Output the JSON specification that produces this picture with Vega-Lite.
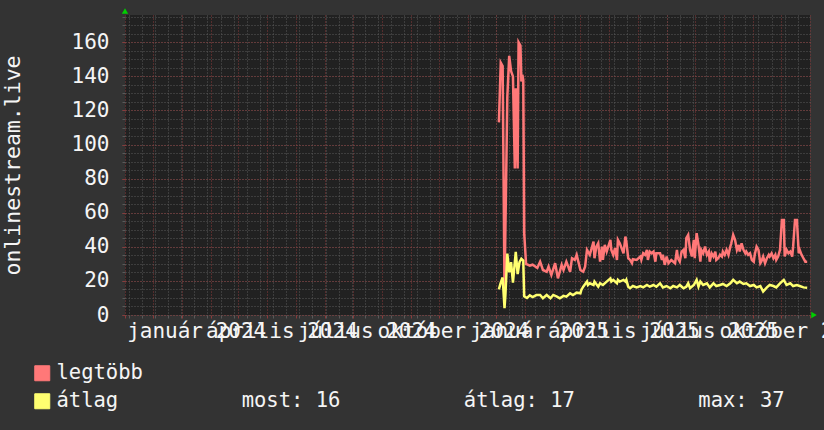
{
  "$schema": "https://vega.github.io/schema/vega-lite/v6.json",
  "width": 685,
  "height": 300,
  "autosize": {"type": "none"},
  "padding": {"left": 125, "top": 15, "right": 14, "bottom": 115},
  "background": "#333333",
  "config": {
    "view": {"fill": "#212121", "stroke": null},
    "font": "DejaVu Sans Mono"
  },
  "data": {
    "values": [
      {"t": "2024-12-04", "s": "legtöbb", "v": 113},
      {"t": "2024-12-06", "s": "legtöbb", "v": 148},
      {"t": "2024-12-08", "s": "legtöbb", "v": 146},
      {"t": "2024-12-10", "s": "legtöbb", "v": 14},
      {"t": "2024-12-13", "s": "legtöbb", "v": 128},
      {"t": "2024-12-15", "s": "legtöbb", "v": 152},
      {"t": "2024-12-17", "s": "legtöbb", "v": 143},
      {"t": "2024-12-19", "s": "legtöbb", "v": 140},
      {"t": "2024-12-21", "s": "legtöbb", "v": 86},
      {"t": "2024-12-22", "s": "legtöbb", "v": 133},
      {"t": "2024-12-24", "s": "legtöbb", "v": 86},
      {"t": "2024-12-25", "s": "legtöbb", "v": 160},
      {"t": "2024-12-27", "s": "legtöbb", "v": 158},
      {"t": "2024-12-28", "s": "legtöbb", "v": 137},
      {"t": "2024-12-29", "s": "legtöbb", "v": 141},
      {"t": "2024-12-30", "s": "legtöbb", "v": 138},
      {"t": "2024-12-31", "s": "legtöbb", "v": 48},
      {"t": "2025-01-02", "s": "legtöbb", "v": 30},
      {"t": "2025-01-06", "s": "legtöbb", "v": 29},
      {"t": "2025-01-09", "s": "legtöbb", "v": 29.5},
      {"t": "2025-01-14", "s": "legtöbb", "v": 27.6},
      {"t": "2025-01-17", "s": "legtöbb", "v": 31.3},
      {"t": "2025-01-20", "s": "legtöbb", "v": 26.4},
      {"t": "2025-01-24", "s": "legtöbb", "v": 25.4},
      {"t": "2025-01-26", "s": "legtöbb", "v": 28.4},
      {"t": "2025-01-29", "s": "legtöbb", "v": 23.5},
      {"t": "2025-02-02", "s": "legtöbb", "v": 30.4},
      {"t": "2025-02-05", "s": "legtöbb", "v": 21.5},
      {"t": "2025-02-09", "s": "legtöbb", "v": 29.4},
      {"t": "2025-02-11", "s": "legtöbb", "v": 26.4},
      {"t": "2025-02-14", "s": "legtöbb", "v": 31.3},
      {"t": "2025-02-18", "s": "legtöbb", "v": 25.4},
      {"t": "2025-02-20", "s": "legtöbb", "v": 33.3},
      {"t": "2025-02-23", "s": "legtöbb", "v": 32.3},
      {"t": "2025-02-25", "s": "legtöbb", "v": 35.3},
      {"t": "2025-03-01", "s": "legtöbb", "v": 26.4},
      {"t": "2025-03-04", "s": "legtöbb", "v": 25.4},
      {"t": "2025-03-06", "s": "legtöbb", "v": 28.4},
      {"t": "2025-03-08", "s": "legtöbb", "v": 38.2},
      {"t": "2025-03-11", "s": "legtöbb", "v": 35.3},
      {"t": "2025-03-15", "s": "legtöbb", "v": 43.1},
      {"t": "2025-03-16", "s": "legtöbb", "v": 33.3},
      {"t": "2025-03-18", "s": "legtöbb", "v": 40.1},
      {"t": "2025-03-20", "s": "legtöbb", "v": 42.1},
      {"t": "2025-03-22", "s": "legtöbb", "v": 31.3},
      {"t": "2025-03-24", "s": "legtöbb", "v": 40.1},
      {"t": "2025-03-25", "s": "legtöbb", "v": 32.3},
      {"t": "2025-03-27", "s": "legtöbb", "v": 41.1},
      {"t": "2025-03-29", "s": "legtöbb", "v": 37.2},
      {"t": "2025-04-02", "s": "legtöbb", "v": 44.1},
      {"t": "2025-04-03", "s": "legtöbb", "v": 38.2},
      {"t": "2025-04-05", "s": "legtöbb", "v": 35.3},
      {"t": "2025-04-07", "s": "legtöbb", "v": 39.2},
      {"t": "2025-04-09", "s": "legtöbb", "v": 32.3},
      {"t": "2025-04-10", "s": "legtöbb", "v": 44.1},
      {"t": "2025-04-12", "s": "legtöbb", "v": 42.1},
      {"t": "2025-04-14", "s": "legtöbb", "v": 39.2},
      {"t": "2025-04-16", "s": "legtöbb", "v": 36.2},
      {"t": "2025-04-18", "s": "legtöbb", "v": 46},
      {"t": "2025-04-19", "s": "legtöbb", "v": 43.1},
      {"t": "2025-04-21", "s": "legtöbb", "v": 33.3},
      {"t": "2025-04-23", "s": "legtöbb", "v": 32.3},
      {"t": "2025-04-25", "s": "legtöbb", "v": 30.4},
      {"t": "2025-04-26", "s": "legtöbb", "v": 32.7},
      {"t": "2025-04-30", "s": "legtöbb", "v": 32.3},
      {"t": "2025-05-04", "s": "legtöbb", "v": 34.3},
      {"t": "2025-05-05", "s": "legtöbb", "v": 32.3},
      {"t": "2025-05-07", "s": "legtöbb", "v": 36.2},
      {"t": "2025-05-09", "s": "legtöbb", "v": 35.3},
      {"t": "2025-05-11", "s": "legtöbb", "v": 38.2},
      {"t": "2025-05-12", "s": "legtöbb", "v": 32.3},
      {"t": "2025-05-14", "s": "legtöbb", "v": 37.2},
      {"t": "2025-05-16", "s": "legtöbb", "v": 36.2},
      {"t": "2025-05-18", "s": "legtöbb", "v": 37.2},
      {"t": "2025-05-20", "s": "legtöbb", "v": 31.3},
      {"t": "2025-05-21", "s": "legtöbb", "v": 36.2},
      {"t": "2025-05-25", "s": "legtöbb", "v": 36.2},
      {"t": "2025-05-27", "s": "legtöbb", "v": 32.3},
      {"t": "2025-05-28", "s": "legtöbb", "v": 35.3},
      {"t": "2025-05-30", "s": "legtöbb", "v": 29.4},
      {"t": "2025-06-01", "s": "legtöbb", "v": 34.3},
      {"t": "2025-06-03", "s": "legtöbb", "v": 30.4},
      {"t": "2025-06-06", "s": "legtöbb", "v": 32.3},
      {"t": "2025-06-10", "s": "legtöbb", "v": 30.4},
      {"t": "2025-06-12", "s": "legtöbb", "v": 38.2},
      {"t": "2025-06-13", "s": "legtöbb", "v": 33.3},
      {"t": "2025-06-15", "s": "legtöbb", "v": 31.3},
      {"t": "2025-06-17", "s": "legtöbb", "v": 37.2},
      {"t": "2025-06-19", "s": "legtöbb", "v": 38.2},
      {"t": "2025-06-21", "s": "legtöbb", "v": 33.3},
      {"t": "2025-06-22", "s": "legtöbb", "v": 45.1},
      {"t": "2025-06-24", "s": "legtöbb", "v": 47},
      {"t": "2025-06-26", "s": "legtöbb", "v": 38.2},
      {"t": "2025-06-28", "s": "legtöbb", "v": 34.3},
      {"t": "2025-06-30", "s": "legtöbb", "v": 44.1},
      {"t": "2025-07-01", "s": "legtöbb", "v": 33.3},
      {"t": "2025-07-03", "s": "legtöbb", "v": 48},
      {"t": "2025-07-05", "s": "legtöbb", "v": 41.1},
      {"t": "2025-07-07", "s": "legtöbb", "v": 31.3},
      {"t": "2025-07-08", "s": "legtöbb", "v": 38.2},
      {"t": "2025-07-10", "s": "legtöbb", "v": 36.2},
      {"t": "2025-07-12", "s": "legtöbb", "v": 40.1},
      {"t": "2025-07-14", "s": "legtöbb", "v": 35.3},
      {"t": "2025-07-16", "s": "legtöbb", "v": 37.2},
      {"t": "2025-07-17", "s": "legtöbb", "v": 31.3},
      {"t": "2025-07-19", "s": "legtöbb", "v": 36.2},
      {"t": "2025-07-21", "s": "legtöbb", "v": 34.3},
      {"t": "2025-07-23", "s": "legtöbb", "v": 37.2},
      {"t": "2025-07-24", "s": "legtöbb", "v": 32.3},
      {"t": "2025-07-26", "s": "legtöbb", "v": 33.3},
      {"t": "2025-07-28", "s": "legtöbb", "v": 35.3},
      {"t": "2025-07-30", "s": "legtöbb", "v": 34.3},
      {"t": "2025-07-31", "s": "legtöbb", "v": 37.2},
      {"t": "2025-08-02", "s": "legtöbb", "v": 35.3},
      {"t": "2025-08-04", "s": "legtöbb", "v": 38.2},
      {"t": "2025-08-06", "s": "legtöbb", "v": 35.3},
      {"t": "2025-08-08", "s": "legtöbb", "v": 40.1},
      {"t": "2025-08-09", "s": "legtöbb", "v": 42.1},
      {"t": "2025-08-11", "s": "legtöbb", "v": 47},
      {"t": "2025-08-13", "s": "legtöbb", "v": 44.1},
      {"t": "2025-08-15", "s": "legtöbb", "v": 38.2},
      {"t": "2025-08-17", "s": "legtöbb", "v": 41.1},
      {"t": "2025-08-18", "s": "legtöbb", "v": 37.2},
      {"t": "2025-08-20", "s": "legtöbb", "v": 42.1},
      {"t": "2025-08-22", "s": "legtöbb", "v": 38.2},
      {"t": "2025-08-24", "s": "legtöbb", "v": 36.2},
      {"t": "2025-08-25", "s": "legtöbb", "v": 37.2},
      {"t": "2025-08-27", "s": "legtöbb", "v": 35.3},
      {"t": "2025-08-29", "s": "legtöbb", "v": 36.2},
      {"t": "2025-08-31", "s": "legtöbb", "v": 32.3},
      {"t": "2025-09-02", "s": "legtöbb", "v": 31.3},
      {"t": "2025-09-03", "s": "legtöbb", "v": 35.3},
      {"t": "2025-09-05", "s": "legtöbb", "v": 40.1},
      {"t": "2025-09-07", "s": "legtöbb", "v": 38.2},
      {"t": "2025-09-09", "s": "legtöbb", "v": 30.4},
      {"t": "2025-09-10", "s": "legtöbb", "v": 31.3},
      {"t": "2025-09-12", "s": "legtöbb", "v": 34.3},
      {"t": "2025-09-14", "s": "legtöbb", "v": 30.4},
      {"t": "2025-09-16", "s": "legtöbb", "v": 33.3},
      {"t": "2025-09-18", "s": "legtöbb", "v": 35.3},
      {"t": "2025-09-19", "s": "legtöbb", "v": 34.3},
      {"t": "2025-09-21", "s": "legtöbb", "v": 36.2},
      {"t": "2025-09-23", "s": "legtöbb", "v": 33.3},
      {"t": "2025-09-25", "s": "legtöbb", "v": 35.3},
      {"t": "2025-09-26", "s": "legtöbb", "v": 32.3},
      {"t": "2025-09-28", "s": "legtöbb", "v": 34.3},
      {"t": "2025-09-30", "s": "legtöbb", "v": 38.2},
      {"t": "2025-10-02", "s": "legtöbb", "v": 55.8},
      {"t": "2025-10-04", "s": "legtöbb", "v": 55.8},
      {"t": "2025-10-05", "s": "legtöbb", "v": 34.3},
      {"t": "2025-10-07", "s": "legtöbb", "v": 38.2},
      {"t": "2025-10-09", "s": "legtöbb", "v": 36.2},
      {"t": "2025-10-11", "s": "legtöbb", "v": 37.2},
      {"t": "2025-10-13", "s": "legtöbb", "v": 34.3},
      {"t": "2025-10-14", "s": "legtöbb", "v": 40.1},
      {"t": "2025-10-16", "s": "legtöbb", "v": 55.8},
      {"t": "2025-10-18", "s": "legtöbb", "v": 55.8},
      {"t": "2025-10-20", "s": "legtöbb", "v": 36.2},
      {"t": "2025-10-21", "s": "legtöbb", "v": 38.2},
      {"t": "2025-10-23", "s": "legtöbb", "v": 35.3},
      {"t": "2025-10-25", "s": "legtöbb", "v": 33.3},
      {"t": "2025-10-27", "s": "legtöbb", "v": 31.3},
      {"t": "2025-10-29", "s": "legtöbb", "v": 31.3},

      {"t": "2024-12-04", "s": "átlag", "v": 15},
      {"t": "2024-12-06", "s": "átlag", "v": 19},
      {"t": "2024-12-08", "s": "átlag", "v": 22},
      {"t": "2024-12-10", "s": "átlag", "v": 4},
      {"t": "2024-12-11", "s": "átlag", "v": 12},
      {"t": "2024-12-13", "s": "átlag", "v": 36},
      {"t": "2024-12-15", "s": "átlag", "v": 25},
      {"t": "2024-12-17", "s": "átlag", "v": 31},
      {"t": "2024-12-19", "s": "átlag", "v": 19},
      {"t": "2024-12-22", "s": "átlag", "v": 37},
      {"t": "2024-12-24", "s": "átlag", "v": 24},
      {"t": "2024-12-26", "s": "átlag", "v": 31},
      {"t": "2024-12-28", "s": "átlag", "v": 33},
      {"t": "2024-12-30", "s": "átlag", "v": 32},
      {"t": "2024-12-31", "s": "átlag", "v": 11},
      {"t": "2025-01-03", "s": "átlag", "v": 10},
      {"t": "2025-01-06", "s": "átlag", "v": 11.5},
      {"t": "2025-01-09", "s": "átlag", "v": 10.5},
      {"t": "2025-01-13", "s": "átlag", "v": 11.7},
      {"t": "2025-01-17", "s": "átlag", "v": 11.75},
      {"t": "2025-01-20", "s": "átlag", "v": 9.8},
      {"t": "2025-01-24", "s": "átlag", "v": 11.75},
      {"t": "2025-01-28", "s": "átlag", "v": 9.8},
      {"t": "2025-01-31", "s": "átlag", "v": 11.75},
      {"t": "2025-02-04", "s": "átlag", "v": 10.8},
      {"t": "2025-02-07", "s": "átlag", "v": 9.8},
      {"t": "2025-02-11", "s": "átlag", "v": 11.2},
      {"t": "2025-02-14", "s": "átlag", "v": 10.8},
      {"t": "2025-02-18", "s": "átlag", "v": 12.7},
      {"t": "2025-02-21", "s": "átlag", "v": 11.75},
      {"t": "2025-02-25", "s": "átlag", "v": 13.1},
      {"t": "2025-03-01", "s": "átlag", "v": 12.7},
      {"t": "2025-03-02", "s": "átlag", "v": 14.7},
      {"t": "2025-03-04", "s": "átlag", "v": 16.6},
      {"t": "2025-03-08", "s": "átlag", "v": 19.6},
      {"t": "2025-03-09", "s": "átlag", "v": 17.6},
      {"t": "2025-03-11", "s": "átlag", "v": 18.6},
      {"t": "2025-03-15", "s": "átlag", "v": 17.6},
      {"t": "2025-03-16", "s": "átlag", "v": 19.6},
      {"t": "2025-03-20", "s": "átlag", "v": 16.6},
      {"t": "2025-03-22", "s": "átlag", "v": 18.6},
      {"t": "2025-03-25", "s": "átlag", "v": 17.6},
      {"t": "2025-03-29", "s": "átlag", "v": 19.6},
      {"t": "2025-04-02", "s": "átlag", "v": 21.5},
      {"t": "2025-04-03", "s": "átlag", "v": 19.6},
      {"t": "2025-04-05", "s": "átlag", "v": 20.6},
      {"t": "2025-04-09", "s": "átlag", "v": 18.6},
      {"t": "2025-04-10", "s": "átlag", "v": 20.6},
      {"t": "2025-04-12", "s": "átlag", "v": 19.6},
      {"t": "2025-04-16", "s": "átlag", "v": 20.6},
      {"t": "2025-04-18", "s": "átlag", "v": 19.6},
      {"t": "2025-04-19", "s": "átlag", "v": 20.6},
      {"t": "2025-04-21", "s": "átlag", "v": 16.6},
      {"t": "2025-04-23", "s": "átlag", "v": 15.7},
      {"t": "2025-04-26", "s": "átlag", "v": 17},
      {"t": "2025-04-30", "s": "átlag", "v": 16.2},
      {"t": "2025-05-04", "s": "átlag", "v": 17},
      {"t": "2025-05-07", "s": "átlag", "v": 16.2},
      {"t": "2025-05-11", "s": "átlag", "v": 17.6},
      {"t": "2025-05-14", "s": "átlag", "v": 16.6},
      {"t": "2025-05-18", "s": "átlag", "v": 17.6},
      {"t": "2025-05-21", "s": "átlag", "v": 16.6},
      {"t": "2025-05-25", "s": "átlag", "v": 18.6},
      {"t": "2025-05-28", "s": "átlag", "v": 16.2},
      {"t": "2025-06-01", "s": "átlag", "v": 17},
      {"t": "2025-06-05", "s": "átlag", "v": 15.7},
      {"t": "2025-06-08", "s": "átlag", "v": 17},
      {"t": "2025-06-12", "s": "átlag", "v": 16.2},
      {"t": "2025-06-15", "s": "átlag", "v": 17.6},
      {"t": "2025-06-19", "s": "átlag", "v": 15.7},
      {"t": "2025-06-22", "s": "átlag", "v": 16.6},
      {"t": "2025-06-24", "s": "átlag", "v": 18.6},
      {"t": "2025-06-26", "s": "átlag", "v": 15.7},
      {"t": "2025-06-30", "s": "átlag", "v": 17.6},
      {"t": "2025-07-03", "s": "átlag", "v": 20.6},
      {"t": "2025-07-05", "s": "átlag", "v": 16.6},
      {"t": "2025-07-07", "s": "átlag", "v": 19.6},
      {"t": "2025-07-10", "s": "átlag", "v": 17.6},
      {"t": "2025-07-14", "s": "átlag", "v": 18.6},
      {"t": "2025-07-17", "s": "átlag", "v": 16.2},
      {"t": "2025-07-21", "s": "átlag", "v": 18.6},
      {"t": "2025-07-24", "s": "átlag", "v": 17},
      {"t": "2025-07-28", "s": "átlag", "v": 17.6},
      {"t": "2025-07-31", "s": "átlag", "v": 18.2},
      {"t": "2025-08-04", "s": "átlag", "v": 17},
      {"t": "2025-08-08", "s": "átlag", "v": 18.6},
      {"t": "2025-08-11", "s": "átlag", "v": 20.6},
      {"t": "2025-08-15", "s": "átlag", "v": 18.6},
      {"t": "2025-08-18", "s": "átlag", "v": 19.6},
      {"t": "2025-08-22", "s": "átlag", "v": 18.2},
      {"t": "2025-08-25", "s": "átlag", "v": 18.6},
      {"t": "2025-08-29", "s": "átlag", "v": 17},
      {"t": "2025-09-02", "s": "átlag", "v": 17.6},
      {"t": "2025-09-05", "s": "átlag", "v": 16.2},
      {"t": "2025-09-09", "s": "átlag", "v": 17},
      {"t": "2025-09-12", "s": "átlag", "v": 13.7},
      {"t": "2025-09-16", "s": "átlag", "v": 16.2},
      {"t": "2025-09-19", "s": "átlag", "v": 17.6},
      {"t": "2025-09-23", "s": "átlag", "v": 17},
      {"t": "2025-09-26", "s": "átlag", "v": 16.2},
      {"t": "2025-09-30", "s": "átlag", "v": 18.6},
      {"t": "2025-10-04", "s": "átlag", "v": 20.6},
      {"t": "2025-10-07", "s": "átlag", "v": 17.6},
      {"t": "2025-10-11", "s": "átlag", "v": 18.6},
      {"t": "2025-10-14", "s": "átlag", "v": 17},
      {"t": "2025-10-18", "s": "átlag", "v": 17.6},
      {"t": "2025-10-21", "s": "átlag", "v": 17},
      {"t": "2025-10-25", "s": "átlag", "v": 16.2},
      {"t": "2025-10-29", "s": "átlag", "v": 16}
    ]
  },
  "layer": [
    {
      "mark": {"type": "line", "opacity": 0},
      "encoding": {
        "x": {
          "field": "t", "type": "temporal",
          "scale": {"type": "utc", "nice": false, "domain": [{"year": 2023, "month": 11, "date": 1, "utc": true}, {"year": 2025, "month": 11, "date": 1, "utc": true}]},
          "axis": {"orient": "bottom", "grid": true, "gridColor": "#5a5a5a", "gridDash": [1, 2], "gridWidth": 1, "labels": false, "ticks": true, "tickSize": 3, "tickColor": "#5a5a5a", "domain": false, "title": null, "tickCount": {"interval": "week", "step": 2}}
        },
        "y": {
          "field": "v", "type": "quantitative",
          "scale": {"domain": [0, 176], "nice": false},
          "axis": {"orient": "left", "grid": true, "gridColor": "#5a5a5a", "gridDash": [1, 2], "gridWidth": 1, "labels": false, "ticks": true, "tickSize": 3, "tickColor": "#5a5a5a", "domain": false, "title": null, "values": [0, 5, 10, 15, 20, 25, 30, 35, 40, 45, 50, 55, 60, 65, 70, 75, 80, 85, 90, 95, 100, 105, 110, 115, 120, 125, 130, 135, 140, 145, 150, 155, 160, 165, 170, 175]}
        },
        "detail": {"field": "s"}
      }
    },
    {
      "mark": {"type": "line", "strokeWidth": 2.5},
      "encoding": {
        "x": {
          "field": "t", "type": "temporal",
          "scale": {"type": "utc", "nice": false, "domain": [{"year": 2023, "month": 11, "date": 1, "utc": true}, {"year": 2025, "month": 11, "date": 1, "utc": true}]},
          "axis": {
            "orient": "bottom", "grid": true, "gridColor": "#8b3a3a", "gridDash": [1, 2], "gridWidth": 1,
            "ticks": true, "tickSize": 3, "tickColor": "#8b3a3a", "domain": false, "title": null,
            "tickCount": {"interval": "month", "step": 1},
            "labelExpr": "utcmonth(datum.value) == 0 ? 'január ' + utcyear(datum.value) : utcmonth(datum.value) == 3 ? 'április ' + utcyear(datum.value) : utcmonth(datum.value) == 6 ? 'július ' + utcyear(datum.value) : utcmonth(datum.value) == 9 ? 'október ' + utcyear(datum.value) : ''",
            "labelOverlap": false, "labelBound": false, "labelFlush": false,
            "labelOffset": 14, "labelAlign": "center", "labelBaseline": "alphabetic", "labelPadding": 19,
            "labelFont": "DejaVu Sans Mono", "labelFontSize": 21, "labelColor": "#f5f5f5", "labelLimit": 1000
          }
        },
        "y": {
          "field": "v", "type": "quantitative",
          "scale": {"domain": [0, 176], "nice": false},
          "axis": {
            "orient": "left", "grid": true, "gridColor": "#8b3a3a", "gridDash": [1, 2], "gridWidth": 1,
            "values": [0, 20, 40, 60, 80, 100, 120, 140, 160],
            "ticks": true, "tickSize": 3, "tickColor": "#8b3a3a", "domain": false,
            "labelFont": "DejaVu Sans Mono", "labelFontSize": 21, "labelColor": "#f5f5f5", "labelPadding": 13,
            "title": "onlinestream.live", "titleFont": "DejaVu Sans Mono", "titleFontSize": 21.5, "titleFontWeight": "normal",
            "titleColor": "#f5f5f5", "titleX": -106, "titleBaseline": "alphabetic"
          }
        },
        "color": {
          "field": "s", "type": "nominal",
          "scale": {"domain": ["legtöbb", "átlag"], "range": ["#ff7878", "#ffff70"]},
          "legend": {
            "orient": "none", "legendX": -93, "legendY": 348, "title": null, "direction": "vertical",
            "padding": 0, "symbolType": "square", "symbolSize": 225, "symbolStrokeWidth": 1, "symbolStrokeColor": "#111111",
            "labelFont": "DejaVu Sans Mono", "labelFontSize": 20.5, "labelColor": "#f5f5f5", "labelLimit": 1000,
            "labelOffset": 4, "rowPadding": 7,
            "labelExpr": "datum.label == 'átlag' ? 'átlag\u00a0\u00a0\u00a0\u00a0\u00a0\u00a0\u00a0\u00a0\u00a0\u00a0most: 16\u00a0\u00a0\u00a0\u00a0\u00a0\u00a0\u00a0\u00a0\u00a0\u00a0átlag: 17\u00a0\u00a0\u00a0\u00a0\u00a0\u00a0\u00a0\u00a0\u00a0\u00a0max: 37' : datum.label",
            "encode": {"symbols": {"update": {"fill": {"scale": "color", "field": "value"}, "opacity": {"value": 1}}}}
          }
        }
      }
    },
    {
      "data": {"values": [{}]},
      "mark": {"type": "point", "shape": "triangle-up", "filled": true, "color": "#00d000", "size": 40, "opacity": 1, "yOffset": -4},
      "encoding": {
        "x": {"datum": {"year": 2023, "month": 11, "date": 1, "utc": true}, "type": "temporal", "axis": null},
        "y": {"datum": 176, "type": "quantitative", "axis": null}
      }
    },
    {
      "data": {"values": [{}]},
      "mark": {"type": "point", "shape": "triangle-right", "filled": true, "color": "#00d000", "size": 40, "opacity": 1, "xOffset": 4},
      "encoding": {
        "x": {"datum": {"year": 2025, "month": 11, "date": 1, "utc": true}, "type": "temporal", "axis": null},
        "y": {"datum": 0, "type": "quantitative", "axis": null}
      }
    }
  ],
  "resolve": {"axis": {"x": "independent", "y": "independent"}}
}
